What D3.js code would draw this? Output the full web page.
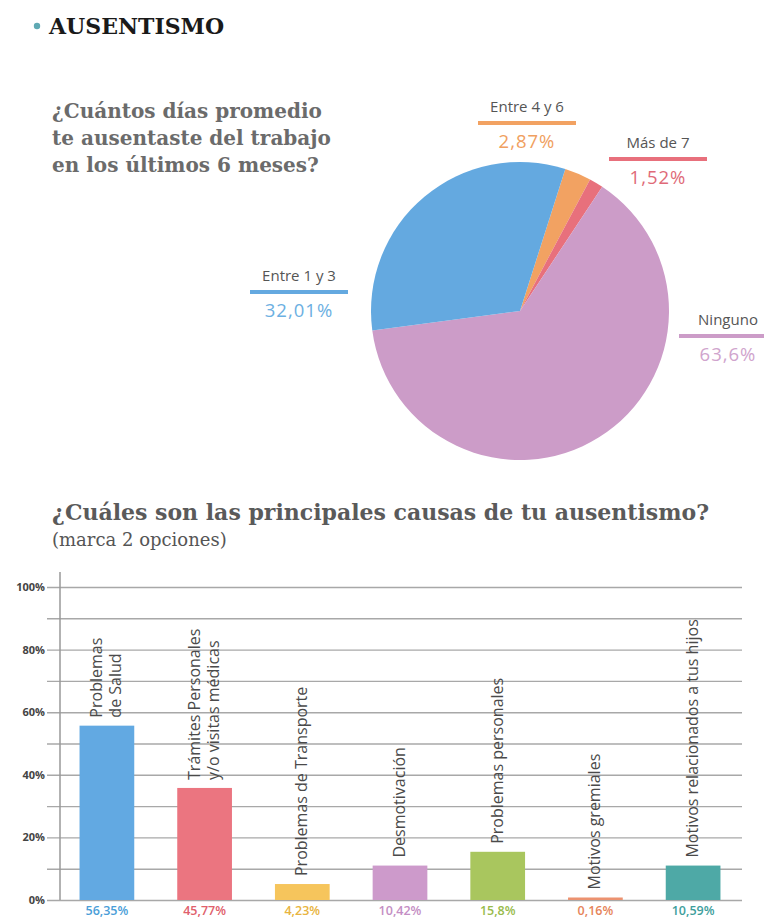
<!DOCTYPE html>
<html>
<head>
<meta charset="utf-8">
<script src="https://cdn.jsdelivr.net/npm/d3@7"></script>
<style>
  body { margin: 0; background: #fff; }
  svg { display: block; }
</style>
</head>
<body>
<div id="chart"></div>
<script>
// pie: dias de ausencia (orden en sentido horario desde el corte azul/naranja)
const pieCategories = ['Entre 4 y 6', 'Más de 7', 'Ninguno', 'Entre 1 y 3'];
const pieValues = [2.87, 1.52, 63.6, 32.01];
const pieLabels = ['2,87%', '1,52%', '63,6%', '32,01%'];

// barras: causas del ausentismo
const barCategories = [
  ['Problemas', 'de Salud'],
  ['Trámites Personales', 'y/o visitas médicas'],
  ['Problemas de Transporte'],
  ['Desmotivación'],
  ['Problemas personales'],
  ['Motivos gremiales'],
  ['Motivos relacionados a tus hijos']
];
const barValues = [55.7, 35.8, 5.1, 11.0, 15.4, 0.8, 11.0];
// porcentajes impresos debajo de cada barra
const barLabels = ['56,35%', '45,77%', '4,23%', '10,42%', '15,8%', '0,16%', '10,59%'];
const yTicks = [0, 10, 20, 30, 40, 50, 60, 70, 80, 90, 100];

const width = 764, height = 922;
const pieColors = ['#f2a262', '#e8707c', '#cc9cc8', '#64a9e0'];
const pieTextColors = ['#f0a060', '#e06a78', '#d0a4cd', '#6cb0e2'];
const barColors = ['#62a9e2', '#eb7580', '#f6c55c', '#cd9acb', '#a9c65e', '#ec9270', '#4ea9a6'];
const barTextColors = ['#4a9ed8', '#e0606c', '#e8b440', '#c48ec4', '#98bb4c', '#e6845a', '#3e9e9c'];

// posicion de las etiquetas del pie (centro del texto, y del texto)
const pieLabelPos = [
  {x: 527, y: 107},
  {x: 658, y: 143},
  {x: 728, y: 320},
  {x: 299, y: 276}
];

const svg = d3.select('#chart').append('svg')
  .attr('width', width).attr('height', height);

// titulo
svg.append('circle').attr('cx', 37).attr('cy', 26).attr('r', 3.2).attr('fill', '#5fa9b3');
svg.append('text')
  .attr('x', 49).attr('y', 34)
  .style('font-family', '"DejaVu Serif", serif')
  .style('font-weight', 'bold')
  .style('font-size', '22px')
  .attr('fill', '#1a1a1a')
  .text('AUSENTISMO');

const q1 = ['¿Cuántos días promedio', 'te ausentaste del trabajo', 'en los últimos 6 meses?'];
svg.append('g').selectAll('text').data(q1).enter().append('text')
  .attr('x', 52).attr('y', (d, i) => 118 + i * 27)
  .style('font-family', '"DejaVu Serif", serif')
  .style('font-weight', 'bold')
  .style('font-size', '20px')
  .attr('fill', '#6b6b6b')
  .text(d => d);

// pie
const cx = 520, cy = 311, r = 149;
const start = 17.7 * Math.PI / 180;
const pie = d3.pie().sort(null).value(d => d).startAngle(start).endAngle(start + 2 * Math.PI);
const arc = d3.arc().innerRadius(0).outerRadius(r);

svg.append('g')
  .attr('transform', `translate(${cx}, ${cy})`)
  .selectAll('path').data(pie(pieValues)).enter().append('path')
  .attr('d', arc)
  .attr('fill', (d, i) => pieColors[i]);

const pl = svg.append('g').selectAll('g').data(pieCategories).enter().append('g')
  .attr('transform', (d, i) => `translate(${pieLabelPos[i].x}, ${pieLabelPos[i].y})`);
pl.append('text')
  .attr('text-anchor', 'middle').attr('y', 5)
  .style('font-family', '"Open Sans", sans-serif')
  .style('font-size', '15px')
  .attr('fill', '#555')
  .text(d => d);
pl.append('line')
  .attr('x1', -49).attr('x2', 49).attr('y1', 16).attr('y2', 16)
  .attr('stroke', (d, i) => pieColors[i])
  .attr('stroke-width', 4);
pl.append('text')
  .attr('text-anchor', 'middle').attr('y', 41)
  .style('font-family', '"Open Sans", sans-serif')
  .style('font-size', '18.5px')
  .style('letter-spacing', '1px')
  .attr('fill', (d, i) => pieTextColors[i])
  .text((d, i) => pieLabels[i]);

// pregunta 2
svg.append('text')
  .attr('x', 52).attr('y', 520)
  .style('font-family', '"DejaVu Serif", serif')
  .style('font-weight', 'bold')
  .style('font-size', '22px')
  .attr('fill', '#5a5a5a')
  .text('¿Cuáles son las principales causas de tu ausentismo?');
svg.append('text')
  .attr('x', 52).attr('y', 546)
  .style('font-family', '"DejaVu Serif", serif')
  .style('font-size', '18px')
  .attr('fill', '#555')
  .text('(marca 2 opciones)');

// barras
const margin = {left: 60, right: 24};
const x = d3.scaleBand()
  .domain(d3.range(barValues.length))
  .range([margin.left, 740])
  .paddingInner(0.44)
  .paddingOuter(0.2);
const y = d3.scaleLinear().domain([0, 100]).range([900, 587]);

const yAxis = g => g
  .attr('transform', `translate(${margin.left}, 0)`)
  .call(d3.axisLeft(y).tickValues(yTicks)
    .tickFormat(d => d % 20 === 0 ? d + '%' : ''))
  .call(g => g.select('.domain').remove())
  .call(g => g.selectAll('line')
    .attr('x1', -13).attr('x2', 682)
    .attr('stroke', '#a8a8a8')
    .attr('stroke-width', 1.4))
  .call(g => g.selectAll('text')
    .attr('x', -15)
    .style('font-family', '"Open Sans", sans-serif')
    .style('font-weight', 'bold')
    .style('font-size', '11px')
    .attr('fill', '#444'));

svg.append('g').call(yAxis);
svg.append('line')
  .attr('x1', margin.left).attr('x2', margin.left)
  .attr('y1', 572).attr('y2', y(0))
  .attr('stroke', '#999').attr('stroke-width', 1.5);

svg.append('g')
  .selectAll('rect').data(barValues).enter().append('rect')
  .attr('x', (d, i) => x(i))
  .attr('y', d => y(d))
  .attr('width', x.bandwidth())
  .attr('height', d => y(0) - y(d))
  .attr('fill', (d, i) => barColors[i]);

// etiquetas verticales
const lh = 19;
svg.append('g')
  .selectAll('text').data(barCategories).enter().append('text')
  .attr('transform', (d, i) => `translate(${x(i) + x.bandwidth() / 2}, ${y(barValues[i]) - 8}) rotate(-90)`)
  .style('font-family', '"Open Sans", sans-serif')
  .style('font-size', '16px')
  .attr('fill', '#4a4a4a')
  .each(function(d) {
    const t = d3.select(this);
    d.forEach((line, j) => {
      t.append('tspan')
        .attr('x', 0)
        .attr('y', (j - (d.length - 1) / 2) * lh + 5)
        .text(line);
    });
  });

svg.append('g')
  .selectAll('text').data(barLabels).enter().append('text')
  .attr('x', (d, i) => x(i) + x.bandwidth() / 2)
  .attr('y', 915)
  .attr('text-anchor', 'middle')
  .style('font-family', '"Open Sans", sans-serif')
  .style('font-weight', '600')
  .style('font-size', '12.5px')
  .attr('fill', (d, i) => barTextColors[i])
  .text(d => d);
</script>
</body>
</html>
